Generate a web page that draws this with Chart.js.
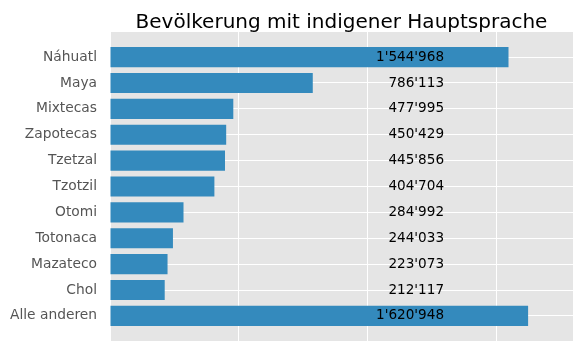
<!DOCTYPE html>
<html>
<head>
<meta charset="utf-8">
<script src="https://cdn.jsdelivr.net/npm/chart.js@4"></script>
<style>
  html, body { margin: 0; padding: 0; background: #fff; }
  #wrap { width: 583px; height: 351px; }
</style>
</head>
<body>
<div id="wrap"><canvas id="langChart"></canvas></div>
<script>
// data
var languages = ["Náhuatl", "Maya", "Mixtecas", "Zapotecas", "Tzetzal", "Tzotzil", "Otomi", "Totonaca", "Mazateco", "Chol", "Alle anderen"];
var speakers = [1544968, 786113, 477995, 450429, 445856, 404704, 284992, 244033, 223073, 212117, 1620948];
var xTicks = [0, 500000, 1000000, 1500000];
var chartTitle = "Bevölkerung mit indigener Hauptsprache";

function fmt(n) {
  return String(n).replace(/\B(?=(\d{3})+(?!\d))/g, "'");
}

// grey plot background + title over the plot area
var decor = {
  id: 'decor',
  beforeDraw: function (chart) {
    var a = chart.chartArea, c = chart.ctx;
    c.save();
    c.fillStyle = '#E5E5E5';
    c.fillRect(a.left, a.top, a.right - a.left, a.bottom - a.top);
    c.fillStyle = '#000';
    c.font = '20px "DejaVu Sans"';
    c.textAlign = 'center';
    c.textBaseline = 'alphabetic';
    c.fillText(chartTitle, (a.left + a.right) / 2, 28);
    c.restore();
  },
  afterDatasetsDraw: function (chart) {
    var c = chart.ctx, xs = chart.scales.x, ys = chart.scales.y;
    c.save();
    c.fillStyle = '#000';
    c.font = '13.6px "DejaVu Sans"';
    c.textAlign = 'right';
    c.textBaseline = 'middle';
    var xr = xs.getPixelForValue(1295000);
    speakers.forEach(function (v, i) {
      c.fillText(fmt(v), xr, ys.getPixelForValue(i));
    });
    c.restore();
  }
};

var ctx = document.getElementById("langChart");
var langChart = new Chart(ctx, {
  type: 'bar',
  data: {
    datasets: [{
      data: speakers.map(function (v, i) { return { x: v, y: i }; }),
      backgroundColor: '#348ABD',
      barPercentage: 0.78,
      categoryPercentage: 1
    }]
  },
  options: {
    indexAxis: 'y',
    responsive: true,
    maintainAspectRatio: false,
    animation: false,
    layout: { padding: { top: 32, right: 10, bottom: 10, left: 0 } },
    plugins: {
      legend: { display: false },
      tooltip: { enabled: false }
    },
    scales: {
      x: {
        bounds: 'data',
        min: 0,
        max: 1795000,
        border: { display: false },
        grid: { color: '#fff', lineWidth: 1, drawTicks: false },
        ticks: { display: false },
        afterBuildTicks: function (s) {
          s.ticks = xTicks.map(function (v) { return { value: v }; });
          s.min = 0; s.max = 1795000;
        },
        afterFit: function (s) {
          s.height = 0;
          s.paddingLeft = 0; s.paddingRight = 0; s.paddingTop = 0; s.paddingBottom = 0;
        }
      },
      y: {
        type: 'linear',
        bounds: 'data',
        offset: false,
        reverse: true,
        min: -0.97,
        max: 10.97,
        border: { display: false },
        grid: { color: '#fff', lineWidth: 1, drawTicks: false, offset: false },
        afterBuildTicks: function (s) {
          s.ticks = languages.map(function (l, i) { return { value: i }; });
          s.min = -0.97; s.max = 10.97;
        },
        afterFit: function (s) {
          s.width = 110;
          s.paddingTop = 0; s.paddingBottom = 0;
        },
        ticks: {
          padding: 13,
          color: '#555555',
          font: { family: 'DejaVu Sans', size: 13.8 },
          callback: function (v) { return languages[v]; }
        }
      }
    }
  },
  plugins: [decor]
});
</script>
</body>
</html>
